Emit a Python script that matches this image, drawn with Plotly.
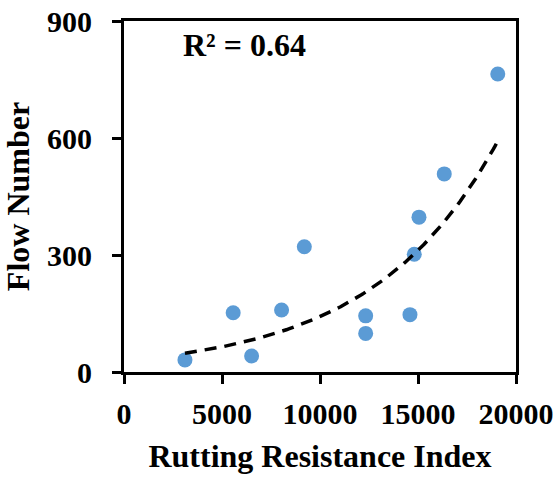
import numpy as np
import plotly.graph_objects as go

# Rutting Resistance Index vs Flow Number
rri = [3110, 5570, 6510, 8040, 9200, 12330, 12330, 14590, 14810, 15050, 16340, 19070]
flow_number = [31, 152, 41, 159, 321, 144, 99, 147, 302, 397, 508, 764]

x_ticks = [0, 5000, 10000, 15000, 20000]
y_ticks = [0, 300, 600, 900]

# Exponential trendline y = a*exp(b*x), fitted on ln(y)
b, ln_a = np.polyfit(rri, np.log(flow_number), 1)
a = np.exp(ln_a)
x_fit = np.linspace(min(rri), max(rri), 200)
y_fit = a * np.exp(b * x_fit)
ln_pred = ln_a + b * np.array(rri)
ln_y = np.log(flow_number)
r2 = 1 - np.sum((ln_y - ln_pred) ** 2) / np.sum((ln_y - ln_y.mean()) ** 2)

FONT = dict(family="Liberation Serif, Times New Roman, serif", color="black", weight="bold")

fig = go.Figure()
fig.add_trace(go.Scatter(
    x=rri, y=flow_number, mode="markers",
    marker=dict(size=15, color="#5B9BD5"),
    showlegend=False,
))
fig.add_trace(go.Scatter(
    x=x_fit, y=y_fit, mode="lines",
    line=dict(color="black", width=3.5, dash="12px,8px"),
    showlegend=False,
))

fig.add_annotation(
    x=0.145, y=0.99, xref="paper", yref="paper", xanchor="left", yanchor="top",
    text=f"R² = {r2:.2f}", showarrow=False,
    font=dict(size=32, **FONT),
)

axis_common = dict(
    showline=True, linecolor="black", linewidth=3, mirror=True,
    ticks="outside", ticklen=9, tickwidth=3, tickcolor="black",
    showgrid=False, zeroline=False, automargin=False,
    tickfont=dict(size=30, **FONT),
)

fig.update_layout(
    width=559, height=477,
    margin=dict(l=124, r=43, t=21, b=105),
    plot_bgcolor="white", paper_bgcolor="white",
    xaxis=dict(range=[0, 20000], tickvals=x_ticks, ticktext=[str(v) for v in x_ticks],
               ticklabelstandoff=4,
               title=dict(text="Rutting Resistance Index", font=dict(size=32, **FONT), standoff=16),
               **axis_common),
    yaxis=dict(range=[0, 900], tickvals=y_ticks, ticktext=[str(v) for v in y_ticks],
               ticklabelstandoff=14,
               title=dict(text="Flow Number", font=dict(size=32, **FONT), standoff=12),
               **axis_common),
)

fig.write_html("out.html")
